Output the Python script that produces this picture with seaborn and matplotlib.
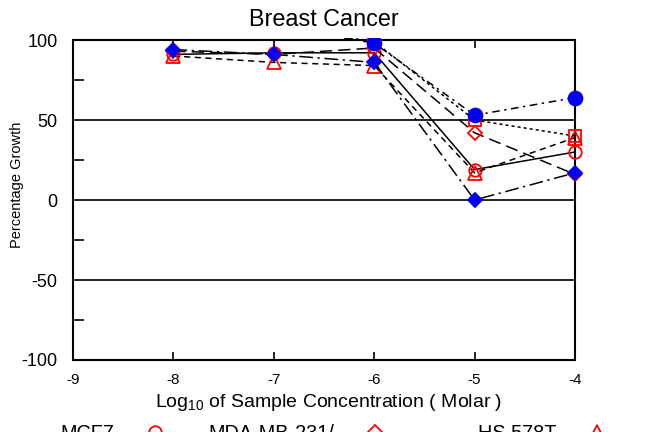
import matplotlib
matplotlib.use("Agg")
import matplotlib.pyplot as plt
from matplotlib.lines import Line2D
from matplotlib.ticker import MultipleLocator
from matplotlib.transforms import Bbox, TransformedBbox
import seaborn as sns

# log10 molar concentration
conc = [-8, -7, -6, -5, -4]

# percentage growth per cell line (points above 100 fall off the top)
mcf7 = [91, 92, 92, 19, 30]
mda231 = [93, 91, 95, 42, 16]
hs578t = [90, 86, 84, 17, 39]
bt549 = [110, 108, 99, 50, 40]
t47d = [110, 109, 98, 53, 64]
mda468 = [94, 91, 86, 0, 17]

names = ["MCF7", "MDA-MB-231/", "HS 578T", "BT-549", "T-47D", "MDA-MB-468"]

sns.set_style("white")
plt.rcParams['font.family'] = ['Liberation Sans', 'DejaVu Sans']
plt.rcParams['mathtext.fontset'] = 'custom'
plt.rcParams['mathtext.rm'] = 'Liberation Sans'
plt.rcParams['mathtext.it'] = 'Liberation Sans'
for k in ['text.color', 'axes.labelcolor', 'xtick.color', 'ytick.color']:
    plt.rcParams[k] = 'black'

red = '#ff0000'
blue = '#0000ee'

# (values, linestyle, marker, size, face, edge)
series = [
    (mcf7, '-', 'o', 9, 'none', red),
    (mda231, (0, (8, 4)), 'D', 7.5, 'none', red),
    (hs578t, (0, (4, 3)), '^', 10, 'none', red),
    (bt549, (0, (2, 2)), 's', 9, 'none', red),
    (t47d, (0, (5, 3, 1.5, 3)), 'o', 10, blue, blue),
    (mda468, (0, (9, 3, 1.5, 3)), 'D', 7.5, blue, blue),
]

fig = plt.figure(figsize=(6.45, 4.32), dpi=100)
ax = fig.add_axes([73/645, 1 - 360/432, 502/645, 320/432])

for vals, ls, m, ms, fc, ec in series:
    sns.lineplot(x=conc, y=vals, ax=ax, color='black', lw=1.1, linestyle=ls,
                 marker=m, markersize=ms, markerfacecolor=fc,
                 markeredgecolor=ec, markeredgewidth=1.3, zorder=3)

# let markers at the right edge show, but still cut off values above 100
clip = TransformedBbox(Bbox.from_extents(-0.04, -0.03, 1.04, 1.006), ax.transAxes)
for ln in ax.lines:
    ln.set_clip_box(clip)

ax.set_xlim(-9, -4)
ax.set_ylim(-100, 100)
ax.set_xticks([-9, -8, -7, -6, -5, -4])
ax.set_xticklabels(['-9', '-8', '-7', '-6', '-5', '-4'], fontsize=11)
ax.set_yticks([-100, -50, 0, 50, 100])
ax.set_yticklabels(['-100', '-50', '0', '50', '100'], fontsize=13)
ax.yaxis.set_minor_locator(MultipleLocator(25))
ax.tick_params(axis='x', direction='in', length=6, width=1.2, top=True,
               bottom=True, pad=9, color='black', labelcolor='black')
ax.tick_params(axis='y', which='major', length=0, pad=11, labelcolor='black')
ax.tick_params(axis='y', which='minor', direction='in', length=8, width=1.2,
               left=True, color='black')
ax.yaxis.grid(True, color='black', lw=1.2)
ax.xaxis.grid(False)
for sp in ax.spines.values():
    sp.set_visible(True)
    sp.set_color('black')
    sp.set_linewidth(1.5)

ax.set_title('Breast Cancer', fontsize=16.8, pad=10, color='black')
ax.set_ylabel('Percentage Growth', fontsize=10.5, color='black')
ax.yaxis.set_label_coords(-0.097, 0.547)
ax.set_xlabel(r'Log$_{10}$ of Sample Concentration ( Molar )', fontsize=14,
              color='black')
ax.xaxis.set_label_coords(0.51, -0.1)

# legend, one column per call so the markers sit at fixed places
cols = [(0, 3, 165), (1, 4, 385), (2, 5, 607)]
for a, b, xr in cols:
    hs = []
    for i in (a, b):
        vals, ls, m, ms, fc, ec = series[i]
        hs.append(Line2D([], [], linestyle='none', marker=m, markersize=ms,
                         markerfacecolor=fc, markeredgecolor=ec,
                         markeredgewidth=1.3))
    fig.legend(hs, [names[a], names[b]], loc='upper right',
               bbox_to_anchor=(xr/645, 0.018), frameon=False, fontsize=14.3,
               markerfirst=False, handlelength=1.0, handletextpad=1.56,
               borderpad=0, borderaxespad=0, labelcolor='black')

fig.savefig('out.png', dpi=100)
